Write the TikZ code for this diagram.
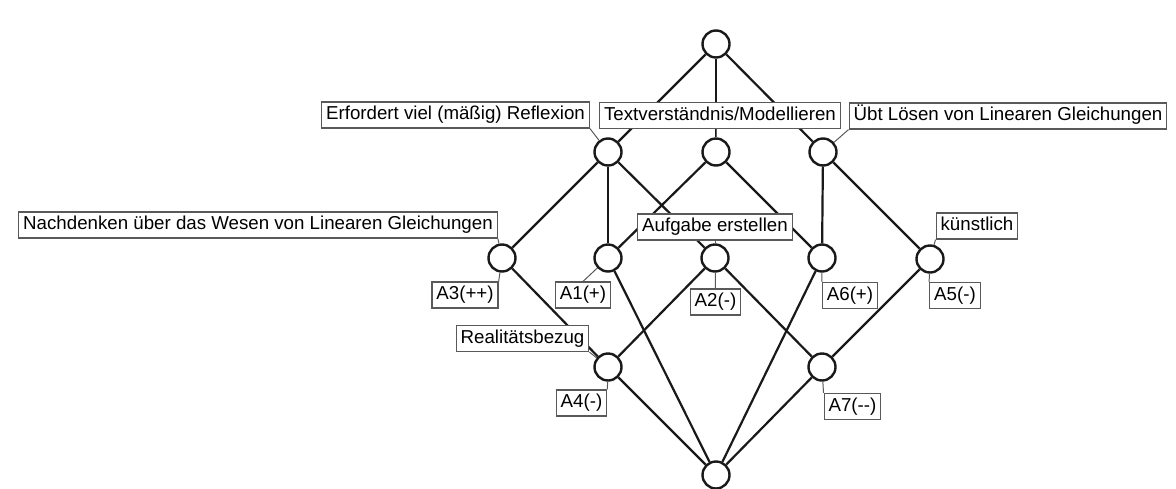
\documentclass[tikz,border=0pt]{standalone}
\usepackage{fontspec}
\setmainfont{Liberation Sans}
\begin{document}
\begin{tikzpicture}[x=1pt,y=-1pt,
  concept/.style={circle,draw=black!90,line width=2.4pt,fill=white,minimum size=27pt,inner sep=0pt},
  edge/.style={line width=2.2pt,draw=black!90},
  tag/.style={draw=black!65,line width=1.2pt,fill=white,font=\fontsize{18.7}{20}\selectfont,
    inner xsep=4.5pt,inner ysep=0pt,minimum height=26pt,text height=13.5pt,text depth=4pt},
  pin/.style={draw=black!65,line width=1pt}]
\useasboundingbox (0,0) rectangle (1176,488);

% lattice concepts
\node[concept] (T)  at (716,44)  {};
\node[concept] (L)  at (608,152) {};
\node[concept] (M)  at (716,152) {};
\node[concept] (R)  at (823,152) {};
\node[concept] (C3) at (502,258) {};
\node[concept] (C1) at (608,258) {};
\node[concept] (C2) at (715,258) {};
\node[concept] (C6) at (822,258) {};
\node[concept] (C5) at (930,259) {};
\node[concept] (C4) at (608,367) {};
\node[concept] (C7) at (822,367) {};
\node[concept] (B)  at (716,475) {};

% order relation
\draw[edge] (T) -- (L);
\draw[edge] (T) -- (M);
\draw[edge] (T) -- (R);
\draw[edge] (L) -- (C3);
\draw[edge] (L) -- (C1);
\draw[edge] (L) -- (C2);
\draw[edge] (M) -- (C1);
\draw[edge] (M) -- (C6);
\draw[edge] (R) -- (C6);
\draw[edge] (R) -- (C5);
\draw[edge] (C3) -- (C4);
\draw[edge] (C2) -- (C4);
\draw[edge] (C2) -- (C7);
\draw[edge] (C5) -- (C7);
\draw[edge] (C1) -- (B);
\draw[edge] (C6) -- (B);
\draw[edge] (C4) -- (B);
\draw[edge] (C7) -- (B);

% attribute labels
\node[tag] (aRef)  at (455.5,115) {Erfordert viel (mäßig) Reflexion};
\node[tag] (aText) at (720,115.5) {Textverständnis/Modellieren};
\node[tag] (aLoes) at (1008,116)  {Übt Lösen von Linearen Gleichungen};
\node[tag] (aNach) at (258,225)   {Nachdenken über das Wesen von Linearen Gleichungen};
\node[tag] (aAufg) at (715,227)   {Aufgabe erstellen};
\node[tag] (aKuen) at (977,226)   {künstlich};
\node[tag] (aReal) at (522.5,338.5) {Realitätsbezug};

% object labels
\node[tag] (o3) at (465,295)     {A3(++)};
\node[tag] (o1) at (583,295)     {A1(+)};
\node[tag] (o2) at (715.5,302)   {A2(-)};
\node[tag] (o6) at (850,295.5)   {A6(+)};
\node[tag] (o5) at (955,295.5)   {A5(-)};
\node[tag] (o4) at (581.5,403)   {A4(-)};
\node[tag] (o7) at (852.5,406.5) {A7(-{}-)};

% label pins
\draw[pin] (aRef.south east)  -- (L);
\draw[pin] (aText.south -| M) -- (M);
\draw[pin] (aLoes.south west) -- (R);
\draw[pin] (aNach.south east) -- (C3);
\draw[pin] (aAufg.south)      -- (C2);
\draw[pin] (aKuen.south west) -- (C5);
\draw[pin] (aReal.south east) -- (C4);
\draw[pin] (o3.north east) -- (C3);
\draw[pin] (o1.north)      -- (C1);
\draw[pin] (o2.north)      -- (C2);
\draw[pin] (o6.north west) -- (C6);
\draw[pin] (o5.north west) -- (C5);
\draw[pin] (o4.north east) -- (C4);
\draw[pin] (o7.north west) -- (C7);
\end{tikzpicture}
\end{document}
